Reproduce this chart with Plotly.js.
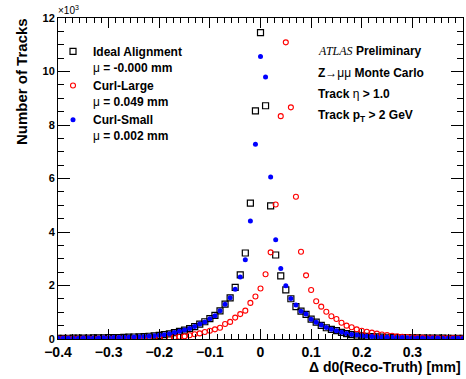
<!DOCTYPE html>
<html>
<head>
<meta charset="utf-8">
<script src="https://cdn.plot.ly/plotly-3.0.1.min.js"></script>
<style>html,body{margin:0;padding:0;background:#fff;}#chart{width:466px;height:379px;}</style>
</head>
<body>
<div id="chart"></div>
<script>
// Bin centres of Δd0 (Reco-Truth) in mm
var binCenters = [-0.40,-0.39,-0.38,-0.37,-0.36,-0.35,-0.34,-0.33,-0.32,-0.31,
  -0.30,-0.29,-0.28,-0.27,-0.26,-0.25,-0.24,-0.23,-0.22,-0.21,
  -0.20,-0.19,-0.18,-0.17,-0.16,-0.15,-0.14,-0.13,-0.12,-0.11,
  -0.10,-0.09,-0.08,-0.07,-0.06,-0.05,-0.04,-0.03,-0.02,-0.01,
  0.00,
  0.01,0.02,0.03,0.04,0.05,0.06,0.07,0.08,0.09,0.10,
  0.11,0.12,0.13,0.14,0.15,0.16,0.17,0.18,0.19,0.20,
  0.21,0.22,0.23,0.24,0.25,0.26,0.27,0.28,0.29,0.30,
  0.31,0.32,0.33,0.34,0.35,0.36,0.37,0.38,0.39,0.40];

// Number of tracks, in units of 10^3
var idealAlignment = [0.025,0.027,0.028,0.030,0.032,0.034,0.036,0.039,0.042,0.045,
  0.049,0.053,0.057,0.062,0.068,0.075,0.083,0.092,0.103,0.116,
  0.135,0.160,0.195,0.240,0.285,0.335,0.390,0.460,0.555,0.645,
  0.765,0.880,1.055,1.305,1.535,1.930,2.400,3.215,5.080,8.530,
  11.45,
  8.72,4.98,3.14,2.36,1.84,1.505,1.21,1.045,0.92,0.74,
  0.63,0.51,0.42,0.36,0.31,0.25,0.20,0.16,0.15,0.12,
  0.10,0.09,0.08,0.072,0.066,0.060,0.055,0.051,0.047,0.044,
  0.041,0.038,0.036,0.034,0.032,0.030,0.028,0.026,0.025,0.024];

var curlLarge = [0.014,0.015,0.015,0.016,0.017,0.017,0.018,0.019,0.020,0.020,
  0.021,0.022,0.024,0.026,0.028,0.030,0.033,0.036,0.040,0.044,
  0.049,0.055,0.062,0.070,0.082,0.10,0.14,0.18,0.21,0.26,
  0.31,0.36,0.42,0.56,0.64,0.80,0.93,1.06,1.35,1.59,
  1.89,
  2.42,3.24,5.03,8.33,11.09,8.66,5.32,3.26,2.38,1.83,
  1.41,1.21,1.02,0.85,0.75,0.61,0.50,0.44,0.36,0.31,
  0.27,0.24,0.20,0.17,0.15,0.12,0.10,0.085,0.073,0.064,
  0.057,0.051,0.046,0.042,0.039,0.036,0.034,0.032,0.030,0.028];

var curlSmall = [0.026,0.027,0.029,0.030,0.032,0.035,0.037,0.040,0.042,0.046,
  0.050,0.054,0.058,0.063,0.070,0.076,0.084,0.094,0.105,0.118,
  0.138,0.162,0.198,0.245,0.290,0.340,0.395,0.465,0.560,0.64,
  0.76,0.87,1.06,1.30,1.54,1.86,2.32,2.96,4.41,7.28,
  10.56,
  9.79,6.06,3.71,2.64,1.99,1.51,1.27,1.04,0.93,0.74,
  0.63,0.52,0.43,0.36,0.31,0.255,0.205,0.165,0.15,0.122,
  0.102,0.091,0.081,0.073,0.067,0.061,0.056,0.052,0.048,0.045,
  0.042,0.039,0.037,0.035,0.033,0.031,0.029,0.027,0.026,0.025];

var seriesNames = ['Ideal Alignment<br><span style="font-weight:normal">μ</span> = -0.000 mm',
  'Curl-Large<br><span style="font-weight:normal">μ</span> = 0.049 mm',
  'Curl-Small<br><span style="font-weight:normal">μ</span> = 0.002 mm'];
var xTitle = 'Δ d0(Reco-Truth) [mm]';
var yTitle = 'Number of Tracks';
var infoLines = ['<span style="font-family:\'Liberation Serif\',serif;font-style:italic;font-weight:normal">ATLAS</span> Preliminary',
  'Z<span style="font-weight:normal">→μμ</span> Monte Carlo',
  'Track <span style="font-weight:normal">η</span> > 1.0',
  'Track p<sub>T</sub> > 2 GeV'];

var FONT = 'Liberation Sans, Arial, Helvetica, sans-serif';

var traces = [
  {x: binCenters, y: idealAlignment, type: 'scatter', mode: 'markers', name: seriesNames[0], legendgroup: 'a',
   marker: {symbol: 'square-open', size: 6, color: '#000000', line: {width: 1.2, color: '#000000'}}, cliponaxis: true},
  {x: binCenters, y: curlLarge, type: 'scatter', mode: 'markers', name: seriesNames[1], legendgroup: 'b',
   marker: {symbol: 'circle-open', size: 5, color: '#ff0000', line: {width: 1.1, color: '#ff0000'}}, cliponaxis: true},
  {x: binCenters, y: curlSmall, type: 'scatter', mode: 'markers', name: seriesNames[2], legendgroup: 'c',
   marker: {symbol: 'circle', size: 5, color: '#0000ff', line: {width: 0}}, cliponaxis: true}
];

var P_L = 58, P_T = 18, P_W = 405.5, P_H = 321;
function px(x){ return (x - P_L) / P_W; }
function py(y){ return (P_T + P_H - y) / P_H; }

var annotations = [
  {text: yTitle, xref: 'paper', yref: 'paper', x: px(21), y: py(82), xanchor: 'center', yanchor: 'middle',
   textangle: -90, showarrow: false, font: {family: FONT, size: 15, weight: 'bold', color: '#000'}},
  {text: xTitle, xref: 'paper', yref: 'paper', x: 1, y: py(367), xanchor: 'right', yanchor: 'middle',
   showarrow: false, font: {family: FONT, size: 14, weight: 'bold', color: '#000'}},
  {text: '×10<sup>3</sup>', xref: 'paper', yref: 'paper', x: px(56), y: py(10), xanchor: 'left', yanchor: 'middle',
   showarrow: false, font: {family: FONT, size: 10, color: '#000'}}
];
var infoY = [50.7, 73.3, 94, 116];
for (var i = 0; i < infoLines.length; i++) {
  annotations.push({text: infoLines[i], xref: 'paper', yref: 'paper', x: px(316), y: py(infoY[i]),
    xanchor: 'left', yanchor: 'middle', showarrow: false, font: {family: FONT, size: 12, weight: 'bold', color: '#000'}});
}

var layout = {
  width: 466, height: 379,
  margin: {l: P_L, r: 3, t: P_T, b: 40, pad: 0},
  paper_bgcolor: '#ffffff', plot_bgcolor: '#ffffff',
  font: {family: FONT, color: '#000'},
  showlegend: true,
  legend: {x: px(53), y: py(37), xanchor: 'left', yanchor: 'top', bgcolor: 'rgba(0,0,0,0)',
    font: {family: FONT, size: 12, weight: 'bold', color: '#000'}, valign: 'top', tracegroupgap: 6, traceorder: 'normal'},
  xaxis: {range: [-0.4, 0.4], tick0: 0, dtick: 0.1, ticks: 'inside', ticklen: 10, tickwidth: 1, tickcolor: '#000',
    showline: true, linecolor: '#000', linewidth: 1, mirror: 'allticks', showgrid: false, zeroline: false,
    tickfont: {family: FONT, size: 14, weight: 'bold', color: '#000'},
    minor: {ticks: 'inside', ticklen: 5, tickcolor: '#000', dtick: 0.1/7, tick0: 0, showgrid: false}},
  yaxis: {range: [0, 12], tick0: 0, dtick: 2, ticks: 'inside', ticklen: 12, tickwidth: 1, tickcolor: '#000',
    showline: true, linecolor: '#000', linewidth: 1, mirror: 'allticks', showgrid: false, zeroline: false,
    tickfont: {family: FONT, size: 11, weight: 'bold', color: '#000'},
    minor: {ticks: 'inside', ticklen: 6, tickcolor: '#000', dtick: 0.5, showgrid: false}},
  annotations: annotations
};

Plotly.newPlot('chart', traces, layout, {staticPlot: true, displayModeBar: false});
</script>
</body>
</html>
